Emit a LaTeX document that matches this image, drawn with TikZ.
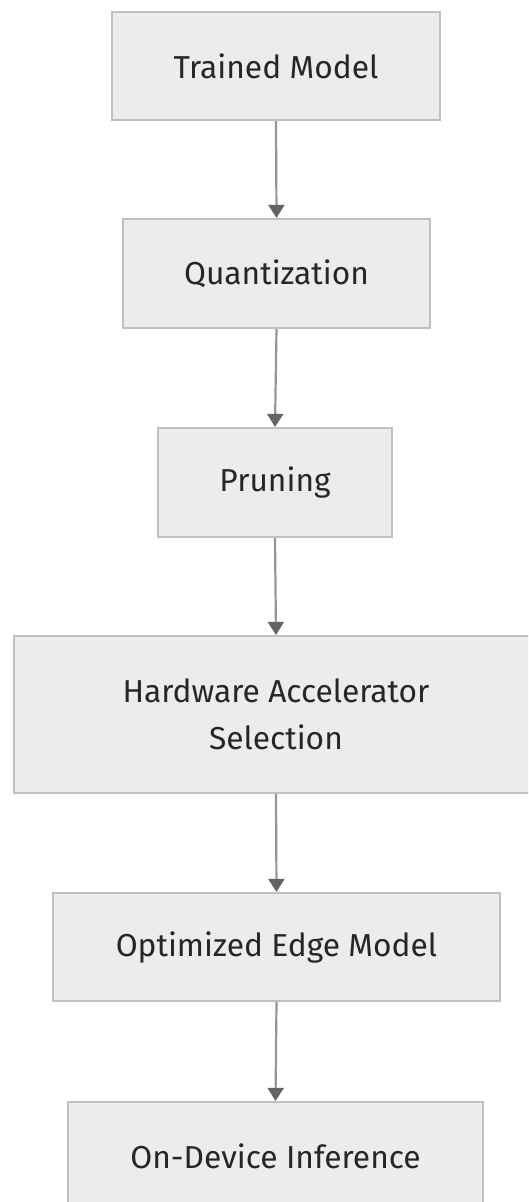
\documentclass[tikz,border=0pt]{standalone}
\usepackage{fontspec}
\setmainfont{Fira Sans}
\usetikzlibrary{arrows.meta}
\definecolor{boxfill}{RGB}{236,236,236}
\definecolor{boxdraw}{RGB}{192,192,192}
\definecolor{linecol}{RGB}{150,150,150}
\definecolor{headcol}{RGB}{100,100,100}
\tikzset{
  flowbox/.style={draw=boxdraw, fill=boxfill, line width=1.65pt, inner sep=0pt, font=\fontsize{23.8}{35}\selectfont, text=black!85, align=center},
  flowarrow/.style={draw=linecol, line width=1.65pt, -{Triangle[length=9.75pt,width=12pt,fill=headcol,color=headcol]}}
}
\begin{document}
\begin{tikzpicture}[x=0.75pt,y=-0.75pt]
\useasboundingbox (0,0) rectangle (528,1202);
\begin{scope}
\clip (0,0) rectangle (528,1202);
\node[flowbox, minimum width=246pt, minimum height=81pt] (a) at (276,66) {Trained Model};
\node[flowbox, minimum width=230.25pt, minimum height=81.75pt] (b) at (276.5,273.5) {Quantization};
\node[flowbox, minimum width=175.5pt, minimum height=81.75pt] (c) at (275,482.5) {Pruning};
\node[flowbox, minimum width=393pt, minimum height=117.75pt] (d) at (276,714.5) {Hardware Accelerator\\Selection};
\node[flowbox, minimum width=335.25pt, minimum height=81pt] (e) at (276.5,947) {Optimized Edge Model};
\node[flowbox, minimum width=311.25pt, minimum height=81pt] (f) at (275.5,1156) {On-Device Inference};
\draw[flowarrow] (a.south) -- (b.north);
\draw[flowarrow] (b.south) -- (c.north);
\draw[flowarrow] (c.south) -- (d.north);
\draw[flowarrow] (d.south) -- (e.north);
\draw[flowarrow] (e.south) -- (f.north);
\end{scope}
\end{tikzpicture}
\end{document}
